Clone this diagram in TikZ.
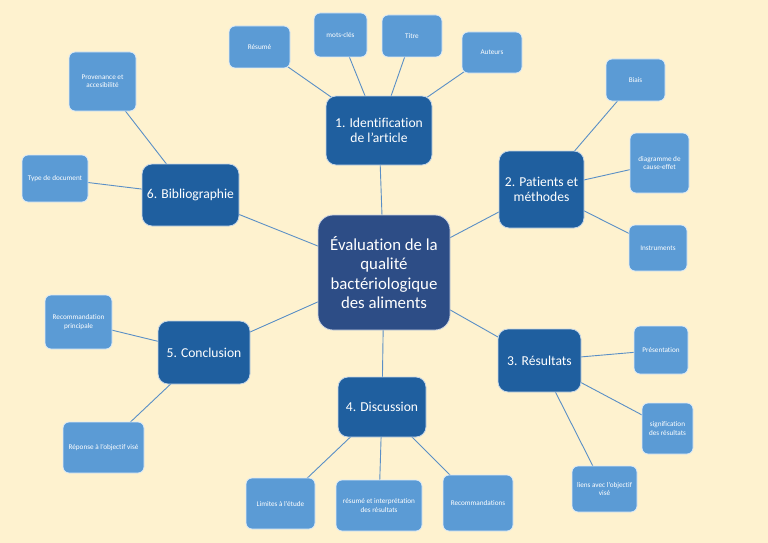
\documentclass[tikz,border=0pt]{standalone}
\usepackage{fontspec}
\setmainfont{Carlito}[Ligatures=NoCommon]
\pgfdeclarelayer{bg}
\pgfdeclarelayer{links}
\pgfsetlayers{bg,links,main}
\definecolor{cream}{HTML}{FEF2CF}
\definecolor{leafblue}{HTML}{5B9BD5}
\definecolor{mainblue}{HTML}{1F5F9F}
\definecolor{coreblue}{HTML}{2D4D86}
\definecolor{linkblue}{HTML}{5A8FC6}
\tikzset{
  wh/.style 2 args={minimum width=#1pt, minimum height=#2pt},
  leaf/.style={rectangle, rounded corners=6pt, fill=leafblue, draw=white!80!leafblue,
    line width=0.8pt, text=white, inner sep=0pt, align=center,
    font=\fontsize{7.2}{8.2}\selectfont},
  topic/.style={rectangle, rounded corners=10pt, fill=mainblue, draw=white!75!mainblue,
    line width=0.8pt, text=white, inner sep=0pt, align=center,
    font=\fontsize{13.6}{15.5}\selectfont},
  core/.style={rectangle, rounded corners=15pt, fill=coreblue, draw=white!75!coreblue,
    line width=0.8pt, text=white, inner sep=0pt, align=center,
    font=\fontsize{16.8}{19.5}\selectfont},
  link/.style={draw=linkblue, line width=0.9pt}
}
\begin{document}
\begin{tikzpicture}[x=1pt,y=-1pt]
\begin{pgfonlayer}{bg}
\fill[cream] (0,0) rectangle (768,543);
\end{pgfonlayer}
\useasboundingbox (0,0) rectangle (768,543);

% core
\node[core, wh={132}{115}] (core) at (384,272.5) {Évaluation de la\\qualité\\bactériologique\\des aliments};

% topics
\node[topic, wh={106}{69}] (ident) at (379,130.5) {1. Identification\\de l’article};
\node[topic, wh={85}{77}] (pat) at (541.5,189.5) {2. Patients et\\méthodes};
\node[topic, wh={83}{63}] (res) at (539.5,360.5) {3. Résultats};
\node[topic, wh={88}{60}] (disc) at (382,407) {4. Discussion};
\node[topic, wh={92}{63}] (concl) at (204,352.5) {5. Conclusion};
\node[topic, wh={97}{62}] (biblio) at (190.5,195) {6. Bibliographie};

% leaves of 1
\node[leaf, wh={61}{42}] (resume) at (259.5,47) {Résumé};
\node[leaf, wh={53}{44}] (mots) at (340.5,35) {mots-clés};
\node[leaf, wh={60}{42}] (titre) at (412,36) {Titre};
\node[leaf, wh={60}{41}] (auteurs) at (492,52.5) {Auteurs};
% leaves of 2
\node[leaf, wh={59}{42}] (biais) at (635.5,80) {Biais};
\node[leaf, wh={59}{60}] (diag) at (659.5,163) {diagramme de\\cause-effet};
\node[leaf, wh={58}{46}] (instr) at (658,248) {Instruments};
% leaves of 3
\node[leaf, wh={54}{48}] (pres) at (661,350) {Présentation};
\node[leaf, wh={51}{51}] (signif) at (667.5,428.5) {signification\\des résultats};
\node[leaf, wh={65}{46}] (liens) at (604.5,489) {liens avec l’objectif\\visé};
% leaves of 4
\node[leaf, wh={69}{51}] (limites) at (280.5,503.5) {Limites à l’étude};
\node[leaf, wh={86}{51}] (interp) at (379,505.5) {résumé et interprétation\\des résultats};
\node[leaf, wh={70}{56}] (recos) at (478,503) {Recommandations};
% leaves of 5
\node[leaf, wh={67}{54}] (recop) at (78.5,322) {Recommandation\\principale};
\node[leaf, wh={81}{51}] (reponse) at (103.5,447.5) {Réponse à l’objectif visé};
% leaves of 6
\node[leaf, wh={67}{59}] (prov) at (102.5,81.5) {Provenance et\\accesibilité};
\node[leaf, wh={66}{47}] (type) at (55,178.5) {Type de document};

\begin{pgfonlayer}{links}
\foreach \a/\b in {core/ident, core/pat, core/res, core/disc, core/concl, core/biblio,
  ident/resume, ident/mots, ident/titre, ident/auteurs,
  pat/biais, pat/diag, pat/instr,
  res/pres, res/signif, res/liens,
  disc/limites, disc/interp, disc/recos,
  concl/recop, concl/reponse,
  biblio/prov, biblio/type}
  \draw[link] (\a.center) -- (\b.center);
\end{pgfonlayer}
\end{tikzpicture}
\end{document}
